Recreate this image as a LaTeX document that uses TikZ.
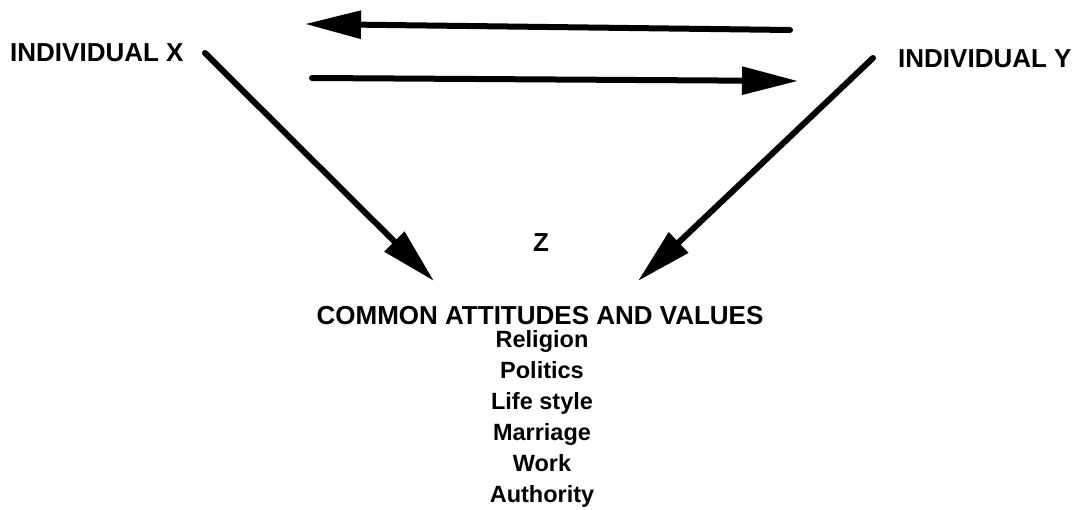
\documentclass[tikz,border=0pt]{standalone}
\usepackage{fontspec}
\setmainfont{Liberation Sans}
\usepackage{tikz}
\usetikzlibrary{arrows.meta}
\tikzset{
  bigarrow/.style={-{Triangle[length=56pt, width=27pt]}, line width=6pt, line cap=round},
  person/.style={font=\fontsize{26}{30}\selectfont\bfseries, inner sep=0pt, anchor=base},
  heading/.style={font=\fontsize{26}{30}\selectfont\bfseries, inner sep=0pt, anchor=base},
  listitem/.style={font=\fontsize{23.5}{28}\selectfont\bfseries, inner sep=0pt, anchor=base}
}

\begin{document}
\begin{tikzpicture}[x=1pt, y=-1pt]
  \useasboundingbox (0,0) rectangle (1076,510);
  \node[person, anchor=base west] (indx) at (10,62) {INDIVIDUAL X};
  \node[person, anchor=base west] (indy) at (898,68) {INDIVIDUAL Y};
  \node[heading] (z) at (541,252) {Z};
  \node[heading] (common) at (540,325) {COMMON ATTITUDES AND VALUES};
  \foreach \topic [count=\i] in {Religion,Politics,Life style,Marriage,Work,Authority}
    \node[listitem] (topic\i) at (542,{348+30.8*(\i-1)}) {\topic};
  % arrow ends
  \coordinate (ytop) at (790,30);
  \coordinate (xtop) at (305,24);
  \coordinate (xbot) at (312,78);
  \coordinate (ybot) at (798,81);
  \coordinate (xdiag) at (205,53);
  \coordinate (ydiag) at (873,58);
  \coordinate (zleft) at (434,281);
  \coordinate (zright) at (638,281);
  \draw[bigarrow] (ytop) -- (xtop);
  \draw[bigarrow] (xbot) -- (ybot);
  \draw[bigarrow] (xdiag) -- (zleft);
  \draw[bigarrow] (ydiag) -- (zright);
\end{tikzpicture}
\end{document}
